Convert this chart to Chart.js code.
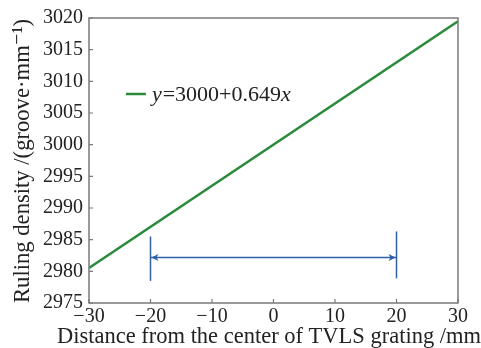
<!DOCTYPE html>
<html>
<head>
<meta charset="utf-8">
<script src="https://cdn.jsdelivr.net/npm/chart.js@4"></script>
<style>
  html, body { margin: 0; padding: 0; background: #fff; }
  #wrap { width: 481px; height: 348px; }
</style>
</head>
<body>
<div id="wrap"><canvas id="chart"></canvas></div>
<script>
// fitted line y = 3000 + 0.649x
const lineX = [-30, 30];
const lineY = [2980.53, 3019.47];

// blue range markers and the double arrow between them
const markerX = [-20, 20];
const markerLow = [2978.5, 2978.9];
const markerHigh = [2985.5, 2986.3];
const arrowY = 2982.2;

const xTicks = [-30, -20, -10, 0, 10, 20, 30];
const yTicks = [2975, 2980, 2985, 2990, 2995, 3000, 3005, 3010, 3015, 3020];

const xTitle = 'Distance from the center of TVLS grating /mm';
const yTitle = 'Ruling density /(groove\u00b7mm\u207b\u00b9)';

const green = '#2a8a3c';
const blue = '#2f5fa8';
const frame = '#7a7a7a';
const ink = '#222';
const serif = '"Liberation Serif", "DejaVu Serif", serif';

const framePlugin = {
  id: 'frame',
  afterDraw(chart) {
    const ctx = chart.ctx;
    const a = chart.chartArea;
    const xs = chart.scales.x, ys = chart.scales.y;
    ctx.save();
    ctx.strokeStyle = frame;
    ctx.lineWidth = 1.5;
    ctx.strokeRect(a.left, a.top, a.right - a.left, a.bottom - a.top);
    // inward ticks
    ctx.lineWidth = 1.2;
    ctx.beginPath();
    xTicks.forEach(v => {
      const px = xs.getPixelForValue(v);
      ctx.moveTo(px, a.bottom);
      ctx.lineTo(px, a.bottom - 4);
    });
    yTicks.forEach(v => {
      const py = ys.getPixelForValue(v);
      ctx.moveTo(a.left, py);
      ctx.lineTo(a.left + 4, py);
    });
    ctx.stroke();

    // arrowheads at both markers
    const y = ys.getPixelForValue(arrowY);
    const x1 = xs.getPixelForValue(markerX[0]);
    const x2 = xs.getPixelForValue(markerX[1]);
    ctx.fillStyle = blue;
    [[x1, 1], [x2, -1]].forEach(([x, d]) => {
      ctx.beginPath();
      ctx.moveTo(x + d * 0.8, y);
      ctx.lineTo(x + d * 8, y - 3.5);
      ctx.lineTo(x + d * 6, y);
      ctx.lineTo(x + d * 8, y + 3.5);
      ctx.closePath();
      ctx.fill();
    });

    // legend
    const lx = xs.getPixelForValue(-24.0);
    const ly = ys.getPixelForValue(3008);
    ctx.strokeStyle = green;
    ctx.lineWidth = 2.5;
    ctx.beginPath();
    ctx.moveTo(lx, ly);
    ctx.lineTo(lx + 20, ly);
    ctx.stroke();
    ctx.fillStyle = ink;
    ctx.textBaseline = 'middle';
    let tx = lx + 26;
    [['y', true], ['=3000+0.649', false], ['x', true]].forEach(([t, it]) => {
      ctx.font = (it ? 'italic ' : '') + '22px ' + serif;
      ctx.fillText(t, tx, ly + 1);
      tx += ctx.measureText(t).width + (it ? 1 : 0);
    });

    // axis titles (drawn here so they are not squeezed to the plot width)
    ctx.font = '24px ' + serif;
    ctx.textAlign = 'center';
    ctx.textBaseline = 'alphabetic';
    ctx.fillText(xTitle, 269, 343, 424);
    ctx.translate(29, 161);
    ctx.rotate(-Math.PI / 2);
    ctx.fillText(yTitle, 0, 0, 284);
    ctx.restore();
  }
};

new Chart(document.getElementById('chart'), {
  type: 'line',
  data: {
    datasets: [
      {
        data: lineX.map((x, i) => ({ x, y: lineY[i] })),
        borderColor: green,
        borderWidth: 2.5,
        pointRadius: 0,
      },
      {
        data: [{ x: markerX[0], y: markerLow[0] }, { x: markerX[0], y: markerHigh[0] }],
        borderColor: blue,
        borderWidth: 1.5,
        pointRadius: 0,
      },
      {
        data: [{ x: markerX[1], y: markerLow[1] }, { x: markerX[1], y: markerHigh[1] }],
        borderColor: blue,
        borderWidth: 1.5,
        pointRadius: 0,
      },
      {
        data: markerX.map(x => ({ x, y: arrowY })),
        borderColor: blue,
        borderWidth: 1.5,
        pointRadius: 0,
      },
    ],
  },
  options: {
    responsive: true,
    maintainAspectRatio: false,
    animation: false,
    layout: { padding: { top: 7, right: 23, left: 37, bottom: 17 } },
    plugins: { legend: { display: false }, tooltip: { enabled: false } },
    scales: {
      x: {
        type: 'linear',
        min: -30,
        max: 30,
        afterBuildTicks: s => { s.ticks = xTicks.map(v => ({ value: v })); },
        ticks: {
          font: { family: serif, size: 20, lineHeight: 1 },
          color: ink,
          padding: 4,
          maxRotation: 0,
          callback: v => String(v).replace('-', '\u2212'),
        },
        grid: { drawOnChartArea: false, drawTicks: false },
        border: { display: false },
      },
      y: {
        min: 2975,
        max: 3020,
        afterBuildTicks: s => { s.ticks = yTicks.map(v => ({ value: v })); },
        ticks: {
          font: { family: serif, size: 20 },
          color: ink,
          padding: 6,
          callback: v => String(v),
        },
        grid: { drawOnChartArea: false, drawTicks: false },
        border: { display: false },
      },
    },
  },
  plugins: [framePlugin],
});
</script>
</body>
</html>
